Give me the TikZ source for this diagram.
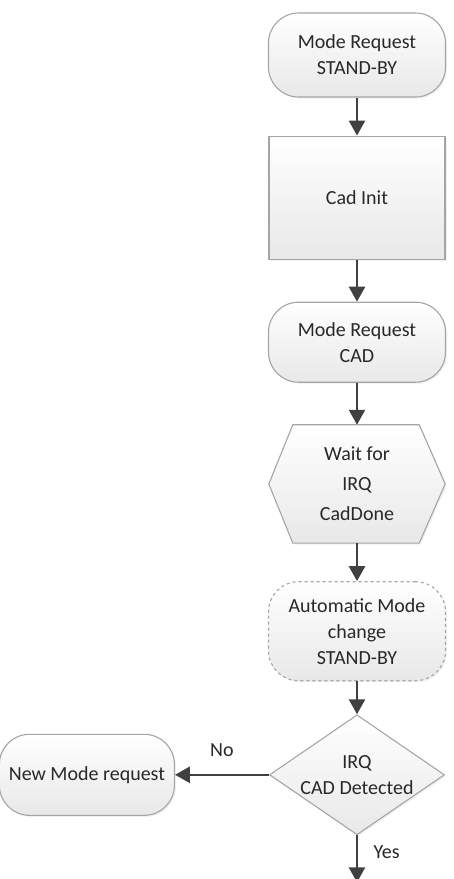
\documentclass[tikz,border=0pt]{standalone}
\usepackage{fontspec}
\setmainfont{Carlito}
\usepackage{tikz}
\usetikzlibrary{arrows.meta, positioning, shapes.geometric, backgrounds, shadows}
\definecolor{boxline}{RGB}{165,165,165}
\definecolor{flowarrow}{RGB}{64,64,64}
\definecolor{boxtext}{RGB}{40,40,40}

\begin{document}
\begin{tikzpicture}[x=1pt, y=1pt, node distance=40pt,
  every node/.style={font=\fontsize{20}{26}\selectfont, text=boxtext},
  boxfill/.style={draw=boxline, line width=1.1pt, top color=white, bottom color=black!9,
    drop shadow={opacity=0.12, shadow xshift=1.5pt, shadow yshift=-1.5pt}},
  termbox/.style={boxfill, rounded corners=30pt, align=center, minimum width=177pt, minimum height=84pt},
  procbox/.style={boxfill, align=center, minimum width=176pt, minimum height=123pt},
  flow/.style={draw=flowarrow, line width=2.6pt, -{Triangle[length=15pt, width=16pt]}}]
  \useasboundingbox (0,0) rectangle (454,-879);

  \node[termbox] (sbreq) at (357,-55) {Mode Request\\STAND-BY};
  \node[procbox, below=38pt of sbreq] (cadinit) {Cad Init};
  \node[termbox, minimum height=80pt, below=42pt of cadinit] (cadreq) {Mode Request\\CAD};
  \node[align=center, minimum width=176pt, minimum height=118pt, below=42pt of cadreq,
    font=\fontsize{20}{30}\selectfont] (waitirq) {Wait for\\IRQ\\CadDone};
  \node[termbox, dashed, minimum height=99pt, below=38pt of waitirq] (autosb) {Automatic Mode\\change\\STAND-BY};
  \node[boxfill, diamond, inner sep=0pt, minimum width=175pt, minimum height=120pt,
    below=33pt of autosb, label={[align=center, name=caddettext]center:IRQ\\CAD Detected}] (caddet) {};
  \node[termbox, minimum width=175pt, minimum height=81pt, left=94pt of caddet] (newmode) {New Mode request};
  \coordinate[below=47pt of caddet] (yesend);

  % hexagon behind the wait node
  \begin{scope}[on background layer]
    \path[boxfill] (waitirq.west) -- ([xshift=24pt]waitirq.north west) -- ([xshift=-26pt]waitirq.north east)
      -- (waitirq.east) -- ([xshift=-26pt]waitirq.south east) -- ([xshift=24pt]waitirq.south west) -- cycle;
  \end{scope}

  \draw[flow] (sbreq) -- (cadinit);
  \draw[flow] (cadinit) -- (cadreq);
  \draw[flow] (cadreq) -- (waitirq);
  \draw[flow] (waitirq) -- (autosb);
  \draw[flow] (autosb) -- (caddet);
  \draw[flow] (caddet) -- node[above=14pt] {No} (newmode);
  \draw[flow] (caddet) -- node[right=12pt, pos=0.35] {Yes} (yesend);
\end{tikzpicture}
\end{document}
